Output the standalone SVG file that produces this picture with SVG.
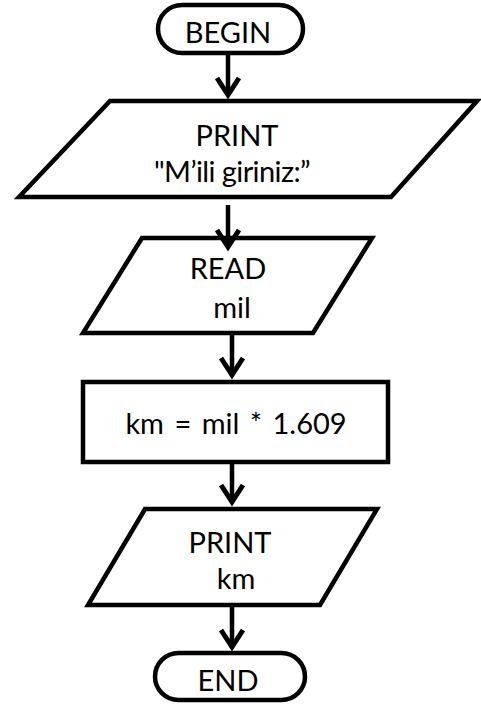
<svg xmlns="http://www.w3.org/2000/svg" width="481" height="704" viewBox="0 0 481 704">
  <style>
    .shape { fill: #ffffff; stroke: #000000; stroke-width: 4.5; stroke-linejoin: miter; }
    .label { font-family: Lato, "Open Sans", "Liberation Sans", sans-serif; font-size: 29px; fill: #000000; text-anchor: middle; }
    .flow { fill: none; stroke: #000000; stroke-width: 4.5; }
  </style>
  <defs>
    <marker id="arrow" markerUnits="userSpaceOnUse" markerWidth="40" markerHeight="40" viewBox="-25 -15 40 30" refX="-1" refY="0" orient="auto" overflow="visible">
      <path d="M-17,-11 L0,0 L-17,11" fill="none" stroke="#000000" stroke-width="5" stroke-linejoin="miter"/>
    </marker>
  </defs>

  <!-- terminal: start -->
  <g id="begin">
    <rect class="shape" x="158" y="5" width="145" height="48" rx="24" ry="24"/>
    <text class="label" x="228" y="43">BEGIN</text>
  </g>

  <!-- output: prompt -->
  <g id="print-prompt">
    <polygon class="shape" points="110,101 477,101 391,197 19,197"/>
    <text class="label" x="237" y="146">PRINT</text>
    <text class="label" x="232" y="182" letter-spacing="-0.6">"M’ili giriniz:”</text>
  </g>

  <!-- input: mil -->
  <g id="read-mil">
    <polygon class="shape" points="142,238 372,238 313,333 83,333"/>
    <text class="label" x="228" y="279">READ</text>
    <text class="label" x="232" y="318">mil</text>
  </g>

  <!-- process: conversion -->
  <g id="convert">
    <rect class="shape" x="83" y="382" width="305" height="80"/>
    <text class="label" x="236" y="434" word-spacing="3">km = mil * 1.609</text>
  </g>

  <!-- output: result -->
  <g id="print-km">
    <polygon class="shape" points="145,509 377,509 320,605 88,605"/>
    <text class="label" x="230" y="553">PRINT</text>
    <text class="label" x="236" y="589">km</text>
  </g>

  <!-- terminal: stop -->
  <g id="end">
    <rect class="shape" x="155" y="653" width="150" height="47" rx="23.5" ry="23.5"/>
    <text class="label" x="228" y="691">END</text>
  </g>

  <!-- flow lines -->
  <g id="connectors">
    <line class="flow" x1="228" y1="53" x2="228" y2="94" marker-end="url(#arrow)"/>
    <line class="flow" x1="228" y1="205" x2="228" y2="246" marker-end="url(#arrow)"/>
    <line class="flow" x1="232" y1="333" x2="232" y2="374" marker-end="url(#arrow)"/>
    <line class="flow" x1="232" y1="462" x2="232" y2="501" marker-end="url(#arrow)"/>
    <line class="flow" x1="232" y1="605" x2="232" y2="646" marker-end="url(#arrow)"/>
  </g>
</svg>
